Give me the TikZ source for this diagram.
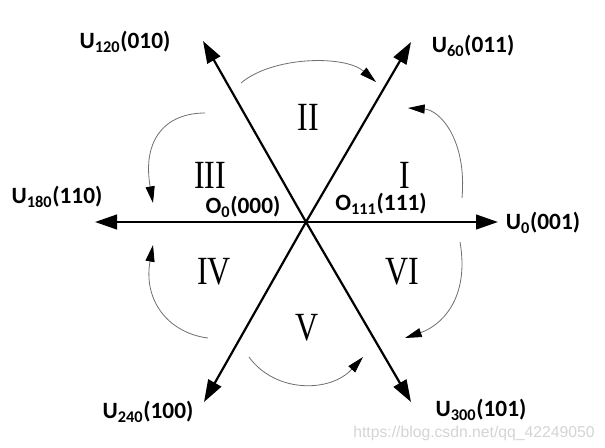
\documentclass[tikz,border=0pt]{standalone}
\usepackage{fontspec}
\setmainfont{Carlito}
\newfontfamily\romfont[FakeStretch=0.8]{Liberation Serif}
\newfontfamily\wmfont{Liberation Sans}
\usetikzlibrary{arrows.meta}
\definecolor{arcgray}{RGB}{110,110,110}
\definecolor{wmgray}{RGB}{212,212,212}
\tikzset{
  vec/.style={-{Triangle[length=16.5pt,width=11pt]}, line width=1.65pt},
  turn/.style={-{Triangle[length=12.5pt,width=6.8pt,color=black]},
               draw=arcgray, line width=0.6pt},
  vlabel/.style={font=\fontsize{17.5}{20}\selectfont\bfseries, inner sep=0pt},
  sector/.style={font=\romfont\fontsize{30}{32}\selectfont, inner sep=0pt},
}

\begin{document}
\begin{tikzpicture}[x=0.75pt, y=-0.75pt]
  \useasboundingbox (0,0) rectangle (605,447);

  %% ── centre and vector tips ──
  \coordinate (O)    at (306,222);
  \coordinate (t0)   at (498,222);
  \coordinate (t60)  at (411,42);
  \coordinate (t120) at (203,41);
  \coordinate (t180) at (95,222);
  \coordinate (t240) at (204,402);
  \coordinate (t300) at (411,402);

  %% ── basic vectors ──
  \draw[vec] (O) -- (t0);
  \draw[vec] (O) -- (t60);
  \draw[vec] (O) -- (t120);
  \draw[vec] (O) -- (t180);
  \draw[vec] (O) -- (t240);
  \draw[vec] (O) -- (t300);

  %% ── vector labels ──
  \node[vlabel] (u0)   at (543,223) {U\textsubscript{0}(001)};
  \node[vlabel] (u60)  at (473,46)  {U\textsubscript{60}(011)};
  \node[vlabel] (u120) at (125,42)  {U\textsubscript{120}(010)};
  \node[vlabel] (u180) at (57,197)  {U\textsubscript{180}(110)};
  \node[vlabel] (u240) at (148,412) {U\textsubscript{240}(100)};
  \node[vlabel] (u300) at (481,410) {U\textsubscript{300}(101)};
  \node[vlabel] (o0)   at (243,207) {O\textsubscript{0}(000)};
  \node[vlabel] (o111) at (381,204) {O\textsubscript{111}(111)};

  %% ── sector numbers ──
  \node[sector] (s1) at (405,175) {I};
  \node[sector] (s2) at (308,117) {II};
  \node[sector] (s3) at (210,175) {III};
  \node[sector] (s4) at (214,272) {IV};
  \node[sector] (s5) at (307,328) {V};
  \node[sector] (s6) at (402,272) {VI};

  %% ── rotation arcs ──
  \coordinate (a1s) at (462,198); \coordinate (a1e) at (408,108);
  \coordinate (a2s) at (241,83);  \coordinate (a2e) at (376,82);
  \coordinate (a3s) at (205,113); \coordinate (a3e) at (153,203);
  \coordinate (a4s) at (208,338); \coordinate (a4e) at (153,245);
  \coordinate (a5s) at (249,357); \coordinate (a5e) at (363,357);
  \coordinate (a6s) at (460,242); \coordinate (a6e) at (405,338);
  \draw[turn] (a1s) .. controls (467,140) and (440,110) .. (a1e);
  \draw[turn] (a2s) .. controls (273,56) and (345,55) .. (a2e);
  \draw[turn] (a3s) .. controls (165,113) and (142,140) .. (a3e);
  \draw[turn] (a4s) .. controls (168,333) and (143,300) .. (a4e);
  \draw[turn] (a5s) .. controls (275,393) and (330,393) .. (a5e);
  \draw[turn] (a6s) .. controls (470,300) and (440,326) .. (a6e);

  %% ── watermark ──
  \node[font=\wmfont\fontsize{11.8}{13}\selectfont, text=wmgray, inner sep=0pt]
    (wm) at (474,433) {https://blog.csdn.net/qq\_42249050};
\end{tikzpicture}
\end{document}
